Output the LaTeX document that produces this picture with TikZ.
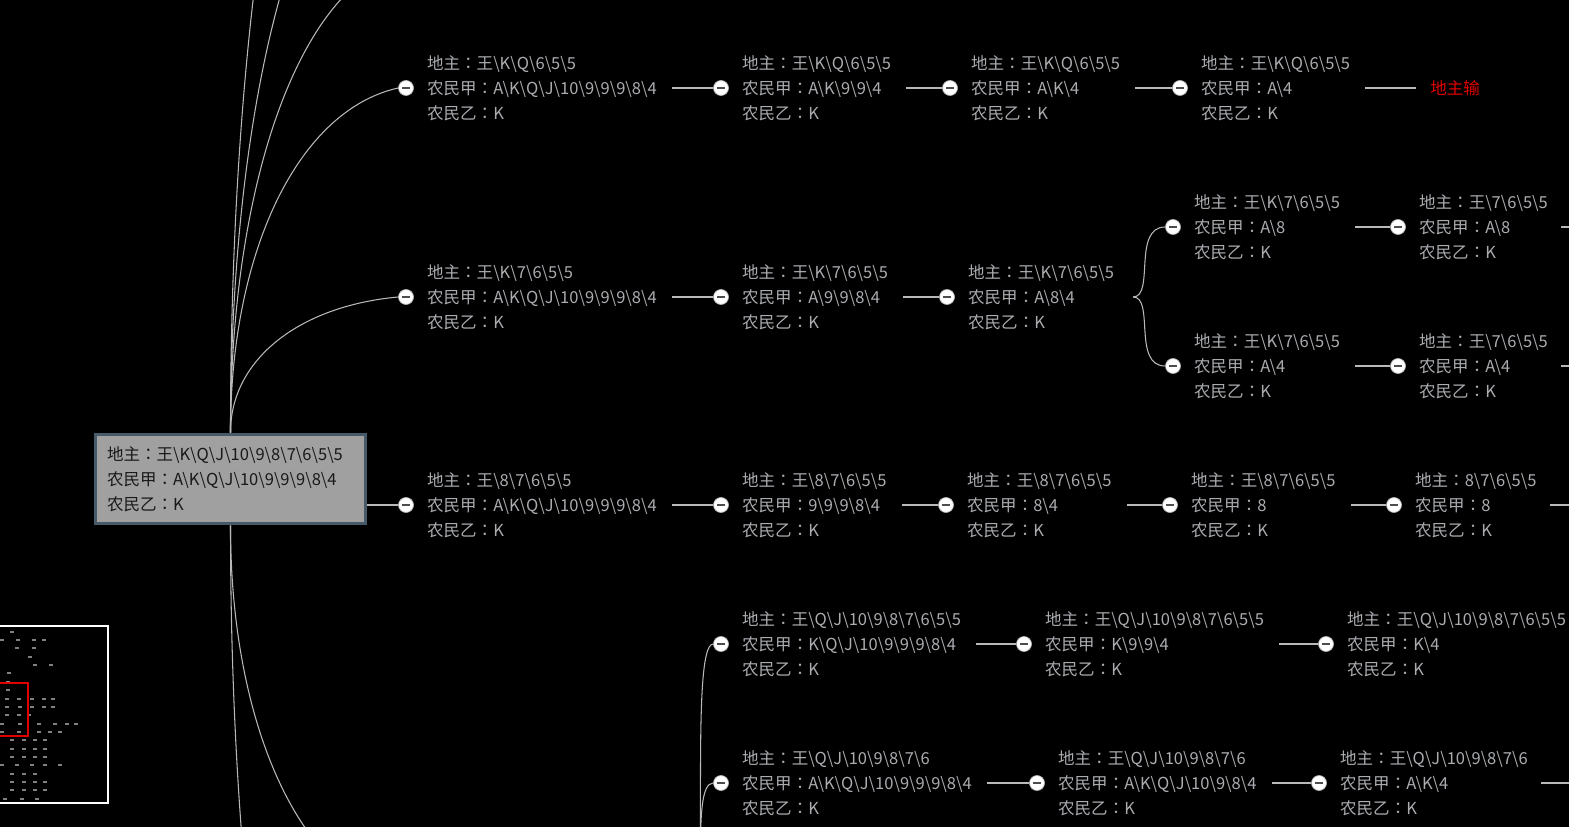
\documentclass[tikz,border=0pt]{standalone}
\usepackage{fontspec}
\setmainfont{Noto Sans CJK SC}
\newfontfamily\colonfont{Noto Sans CJK TC}
\usetikzlibrary{positioning}

\definecolor{infogray}{RGB}{170,172,176}
\definecolor{linkgray}{RGB}{185,185,185}
\definecolor{rootfill}{RGB}{160,160,160}
\definecolor{rootline}{RGB}{70,90,105}
\definecolor{losered}{RGB}{225,0,0}

\newcommand\bs{\textbackslash}
\newcommand\cn{{\colonfont ：}}
% Knoten mit Klappkreis und Text
\newcommand\card[5]{%
	\node[fold] (#1) at (#2,#3) {};
	\node[info, right=0.26cm of #1] (#1t) {地主\cn#4\\农民甲\cn#5\\农民乙\cn K};
}

\tikzset{
	fold/.style={circle, fill=white, draw=gray!60, line width=0.4pt, minimum size=0.3cm, inner sep=0pt,
		path picture={\draw[gray!60!black, line width=1.1pt]
			([xshift=-0.085cm]path picture bounding box.center) -- ([xshift=0.085cm]path picture bounding box.center);}},
	info/.style={text=infogray, font=\fontsize{9.4}{14.2}\selectfont, align=left, inner sep=0pt},
	link/.style={draw=linkgray, line width=0.6pt},
	rootbox/.style={fill=rootfill, draw=rootline, line width=1.7pt, text=black!90, font=\fontsize{9.4}{14.2}\selectfont,
		text width=4.94cm, align=left, inner xsep=0.24cm, minimum height=1.8cm},
}

\begin{document}
\begin{tikzpicture}[x=0.02cm, y=-0.02cm]
	\useasboundingbox (0,0) rectangle (1569,827);
	\clip (0,0) rectangle (1569,827);
	\fill[black] (0,0) rectangle (1569,827);

	%Uebersichtskarte
	\foreach \x/\y in {10/632,0/640,16/640,32/640,42/640,15/648,32/648,28/657,33/665,49/665,7/673,6/682,6/690,
		5/699,17/699,30/699,42/699,51/699,5/707,18/707,30/707,42/707,51/707,5/715,17/715,27/715,
		0/724,18/724,37/724,53/724,65/724,74/724,0/732,17/732,37/732,48/732,58/732,
		10/740,22/740,33/740,43/740,10/749,22/749,33/749,43/749,10/757,22/757,33/757,43/757,
		0/765,15/765,30/765,43/765,58/765,10/774,22/774,33/774,10/782,22/782,33/782,43/782,
		10/790,22/790,33/790,43/790,3/799,20/799,35/799}
	{
		\draw[gray, line width=0.6pt] (\x,\y) -- ++(4,0);
	}
	\draw[white, line width=1.2pt] (-5,626) rectangle (108,803);
	\draw[losered, line width=1.2pt] (-5,683) rectangle (28,736);

	%Wurzel
	\node[rootbox] (root) at (230.5,479)
		{地主\cn 王\bs K\bs Q\bs J\bs 10\bs 9\bs 8\bs 7\bs 6\bs 5\bs 5\\农民甲\cn A\bs K\bs Q\bs J\bs 10\bs 9\bs 9\bs 9\bs 8\bs 4\\农民乙\cn K};

	%Zeile 1
	\card{a1}{406}{88}{王\bs K\bs Q\bs 6\bs 5\bs 5}{A\bs K\bs Q\bs J\bs 10\bs 9\bs 9\bs 9\bs 8\bs 4}
	\card{a2}{721}{88}{王\bs K\bs Q\bs 6\bs 5\bs 5}{A\bs K\bs 9\bs 9\bs 4}
	\card{a3}{950}{88}{王\bs K\bs Q\bs 6\bs 5\bs 5}{A\bs K\bs 4}
	\card{a4}{1180}{88}{王\bs K\bs Q\bs 6\bs 5\bs 5}{A\bs 4}
	\node[info, text=losered, anchor=west] (lose) at (1430,88) {地主输};

	%Zeile 2
	\card{b1}{406}{297}{王\bs K\bs 7\bs 6\bs 5\bs 5}{A\bs K\bs Q\bs J\bs 10\bs 9\bs 9\bs 9\bs 8\bs 4}
	\card{b2}{721}{297}{王\bs K\bs 7\bs 6\bs 5\bs 5}{A\bs 9\bs 9\bs 8\bs 4}
	\card{b3}{947}{297}{王\bs K\bs 7\bs 6\bs 5\bs 5}{A\bs 8\bs 4}
	\card{b4}{1173}{227}{王\bs K\bs 7\bs 6\bs 5\bs 5}{A\bs 8}
	\card{b5}{1173}{366}{王\bs K\bs 7\bs 6\bs 5\bs 5}{A\bs 4}
	\card{b6}{1398}{227}{王\bs 7\bs 6\bs 5\bs 5}{A\bs 8}
	\card{b7}{1398}{366}{王\bs 7\bs 6\bs 5\bs 5}{A\bs 4}

	%Zeile 3
	\card{c1}{406}{505}{王\bs 8\bs 7\bs 6\bs 5\bs 5}{A\bs K\bs Q\bs J\bs 10\bs 9\bs 9\bs 9\bs 8\bs 4}
	\card{c2}{721}{505}{王\bs 8\bs 7\bs 6\bs 5\bs 5}{9\bs 9\bs 9\bs 8\bs 4}
	\card{c3}{946}{505}{王\bs 8\bs 7\bs 6\bs 5\bs 5}{8\bs 4}
	\card{c4}{1170}{505}{王\bs 8\bs 7\bs 6\bs 5\bs 5}{8}
	\card{c5}{1394}{505}{8\bs 7\bs 6\bs 5\bs 5}{8}

	%Zeile 4 und 5
	\card{d1}{721}{644}{王\bs Q\bs J\bs 10\bs 9\bs 8\bs 7\bs 6\bs 5\bs 5}{K\bs Q\bs J\bs 10\bs 9\bs 9\bs 9\bs 8\bs 4}
	\card{d2}{1024}{644}{王\bs Q\bs J\bs 10\bs 9\bs 8\bs 7\bs 6\bs 5\bs 5}{K\bs 9\bs 9\bs 4}
	\card{d3}{1326}{644}{王\bs Q\bs J\bs 10\bs 9\bs 8\bs 7\bs 6\bs 5\bs 5}{K\bs 4}
	\card{e1}{721}{783}{王\bs Q\bs J\bs 10\bs 9\bs 8\bs 7\bs 6}{A\bs K\bs Q\bs J\bs 10\bs 9\bs 9\bs 9\bs 8\bs 4}
	\card{e2}{1037}{783}{王\bs Q\bs J\bs 10\bs 9\bs 8\bs 7\bs 6}{A\bs K\bs Q\bs J\bs 10\bs 9\bs 8\bs 4}
	\card{e3}{1319}{783}{王\bs Q\bs J\bs 10\bs 9\bs 8\bs 7\bs 6}{A\bs K\bs 4}

	%Enden ausserhalb des Bildes
	\coordinate (up1) at (399,-40);
	\coordinate (up2) at (399,-200);
	\coordinate (up3) at (399,-450);
	\coordinate (dn1) at (399,900);
	\coordinate (dn2) at (399,1400);
	\coordinate (dfork) at (690,922);
	\coordinate (bfork) at (1133,297);
	\coordinate (b6r) at (1620,227);
	\coordinate (b7r) at (1620,366);
	\coordinate (c5r) at (1620,505);
	\coordinate (e3r) at (1620,783);

	%Verbindungen
	\draw[link] (root.north) .. controls +(0,-183) and +(-99,22) .. (a1.west);
	\draw[link] (root.north) .. controls +(0,-73) and +(-99,9) .. (b1.west);
	\draw[link] (root.north) .. controls +(0,-251) and +(-99,30) .. (up1);
	\draw[link] (root.north) .. controls +(0,-336) and +(-99,41) .. (up2);
	\draw[link] (root.north) .. controls +(0,-469) and +(-99,57) .. (up3);
	\draw[link] (root.south) .. controls +(0,199) and +(-99,-24) .. (dn1);
	\draw[link] (root.south) .. controls +(0,464) and +(-99,-56) .. (dn2);
	\draw[link] (root.east |- c1) -- (c1.west);
	\draw[link] (dfork) .. controls +(21,0) and +(-24,0) .. (d1.west);
	\draw[link] (dfork) .. controls +(21,0) and +(-24,0) .. (e1.west);
	\draw[link] (bfork) .. controls +(22,0) and +(-33,0) .. (b4.west);
	\draw[link] (bfork) .. controls +(22,0) and +(-33,0) .. (b5.west);
	\foreach \p/\q in {a1/a2,a2/a3,a3/a4,b1/b2,b2/b3,b4/b6,b5/b7,c1/c2,c2/c3,c3/c4,c4/c5,d1/d2,d2/d3,e1/e2,e2/e3}
	{
		\draw[link, shorten <=0.3cm] (\p t.east) -- (\q.west);
	}
	\draw[link, shorten <=0.3cm, shorten >=0.28cm] (a4t.east) -- (lose.west);
	\foreach \p/\q in {b6/b6r,b7/b7r,c5/c5r,e3/e3r}
	{
		\draw[link, shorten <=0.26cm] (\p t.east) -- (\q);
	}
\end{tikzpicture}
\end{document}
